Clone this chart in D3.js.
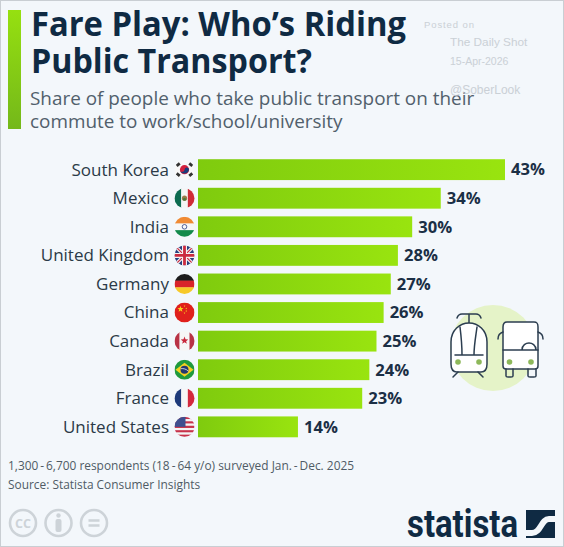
<!DOCTYPE html>
<html><head><meta charset="utf-8">
<script src="https://cdn.jsdelivr.net/npm/d3@7/dist/d3.min.js"></script>
<style>html,body{margin:0;padding:0;background:#f3f7fb}svg{display:block}text{font-family:"Open Sans",sans-serif}</style>
</head><body><svg id="c" width="564" height="547"></svg>
<script>
const categories=["South Korea","Mexico","India","United Kingdom","Germany","China","Canada","Brazil","France","United States"];
const flags=["kr","mx","in","gb","de","cn","ca","br","fr","us"];
const values=[43,34,30,28,27,26,25,24,23,14];
const titleLines=["Fare Play: Who’s Riding","Public Transport?"];
const titleWidths=[375,281];
const subtitleLines=["Share of people who take public transport on their","commute to work/school/university"];
const footerLines=["1,300\u2009-\u20096,700 respondents (18\u2009-\u200964 y/o) surveyed Jan.\u2009-\u2009Dec. 2025","Source: Statista Consumer Insights"];
const watermark=[["Posted on",424,28,9.5,0.9],["The Daily Shot",450,46,11.8,0],["15-Apr-2026",450,65,10.5,0],["@SoberLook",450,94,12,0]];

const svg=d3.select("#c");
const defs=svg.append("defs");
const g1=defs.append("linearGradient").attr("id","bar").attr("x1",0).attr("x2",1).attr("y1",0).attr("y2",0);
g1.append("stop").attr("offset",0).attr("stop-color","#7fcb0e");
g1.append("stop").attr("offset",1).attr("stop-color","#99e40f");
const g2=defs.append("linearGradient").attr("id","side").attr("x1",0).attr("x2",0).attr("y1",0).attr("y2",1);
g2.append("stop").attr("offset",0).attr("stop-color","#96e010");
g2.append("stop").attr("offset",1).attr("stop-color","#74b81a");

svg.append("rect").attr("x",0.5).attr("y",0.5).attr("width",563).attr("height",546).attr("fill","#f3f7fb").attr("stroke","#c9ced3");
svg.append("rect").attr("x",8).attr("y",10).attr("width",13).attr("height",119).attr("fill","url(#side)");

svg.selectAll("text.title").data(titleLines).join("text").attr("class","title")
  .attr("x",31).attr("y",(d,i)=>36+i*36.5).attr("font-size",33.5).attr("font-weight",700).attr("fill","#0f2a43")
  .attr("textLength",(d,i)=>titleWidths[i]).attr("lengthAdjust","spacingAndGlyphs").text(d=>d);
svg.selectAll("text.sub").data(subtitleLines).join("text").attr("class","sub")
  .attr("x",30).attr("y",(d,i)=>105+i*23).attr("font-size",18.9).attr("fill","#51606c").text(d=>d);

const x=d3.scaleLinear().domain([0,43]).range([198,505]);
const y=d3.scaleBand().domain(categories).range([155.5,441]).paddingInner(0.27).paddingOuter(0.13);

svg.selectAll("rect.bar").data(values).join("rect").attr("class","bar")
  .attr("x",x(0)).attr("y",(d,i)=>y(categories[i])).attr("width",d=>x(d)-x(0)).attr("height",y.bandwidth()).attr("fill","url(#bar)");
svg.selectAll("text.cat").data(categories).join("text").attr("class","cat")
  .attr("x",169).attr("y",d=>y(d)+y.bandwidth()/2).attr("dy","0.35em").attr("text-anchor","end")
  .attr("font-size",17).attr("fill","#2b3a47").text(d=>d);
svg.selectAll("text.val").data(values).join("text").attr("class","val")
  .attr("x",d=>x(d)+6).attr("y",(d,i)=>y(categories[i])+y.bandwidth()/2).attr("dy","0.35em")
  .attr("font-size",16.6).attr("font-weight",700).attr("fill","#1b2f45").text(d=>d+"%");

/* flags */
const R=10;
defs.append("clipPath").attr("id","fc").append("circle").attr("r",R);
const bandsV=(g,c)=>c.forEach((k,i)=>g.append("rect").attr("x",-R+i*2*R/c.length).attr("y",-R).attr("width",2*R/c.length+.3).attr("height",2*R).attr("fill",k));
const bandsH=(g,c)=>c.forEach((k,i)=>g.append("rect").attr("x",-R).attr("y",-R+i*2*R/c.length).attr("width",2*R).attr("height",2*R/c.length+.3).attr("fill",k));
const star=(g,cx,cy,r,fill)=>{const p=d3.range(10).map(i=>{const a=-Math.PI/2+i*Math.PI/5,q=i%2?r*.42:r;return [cx+q*Math.cos(a),cy+q*Math.sin(a)]});g.append("polygon").attr("points",p.join(" ")).attr("fill",fill)};
const draw={
 kr(g){g.append("rect").attr("x",-R).attr("y",-R).attr("width",2*R).attr("height",2*R).attr("fill","#f8f8f8");
  g.append("circle").attr("r",4.6).attr("fill","#d4213d");
  g.append("path").attr("d","M-4.5,0.6A4.6,4.6 0 0 0 4.5,-0.6A2.3,2.3 0 0 0 0,0A2.3,2.3 0 0 1 -4.5,0.6Z").attr("fill","#1a3d7c");
  [[-6.3,-5,-40],[6.3,-5,40],[-6.3,5,40],[6.3,5,-40]].forEach(t=>g.append("rect").attr("x",-2).attr("y",-1.4).attr("width",4).attr("height",2.8).attr("fill","#333").attr("transform",`translate(${t[0]},${t[1]}) rotate(${t[2]})`));},
 mx(g){bandsV(g,["#0c6b50","#f5f5f5","#cf2b37"]);g.append("circle").attr("r",2.6).attr("fill","#9a7a4a");g.append("circle").attr("cy",1).attr("r",1.5).attr("fill","#4d7a3a");},
 in(g){bandsH(g,["#f08a33","#f7f7f7","#138a4b"]);g.append("circle").attr("r",2.3).attr("fill","none").attr("stroke","#2a3c80").attr("stroke-width",.8);},
 gb(g){g.append("rect").attr("x",-R).attr("y",-R).attr("width",2*R).attr("height",2*R).attr("fill","#2a3f7e");
  g.append("path").attr("d","M-10,-10L10,10M10,-10L-10,10").attr("stroke","#f4f4f4").attr("stroke-width",3.4);
  g.append("path").attr("d","M-10,-10L10,10M10,-10L-10,10").attr("stroke","#cc2b40").attr("stroke-width",1.2);
  g.append("path").attr("d","M0,-10V10M-10,0H10").attr("stroke","#f4f4f4").attr("stroke-width",5);
  g.append("path").attr("d","M0,-10V10M-10,0H10").attr("stroke","#cc2b40").attr("stroke-width",2.8);},
 de(g){bandsH(g,["#1c1c1c","#d8232a","#f7c928"]);},
 cn(g){g.append("rect").attr("x",-R).attr("y",-R).attr("width",2*R).attr("height",2*R).attr("fill","#e0201c");star(g,-4,-3.5,3.2,"#f7d21e");[[0,-6.5],[1.8,-4],[1.8,-1.5],[0,0.5]].forEach(p=>star(g,p[0],p[1],1,"#f7d21e"));},
 ca(g){bandsV(g,["#b83245","#f6f6f6","#f6f6f6","#b83245"]);star(g,0,-.5,4,"#c8283c");},
 br(g){g.append("rect").attr("x",-R).attr("y",-R).attr("width",2*R).attr("height",2*R).attr("fill","#1f9a3d");
  g.append("polygon").attr("points","-9,0 0,-7 9,0 0,7").attr("fill","#f5d020");g.append("circle").attr("r",4).attr("fill","#24386f");
  g.append("path").attr("d","M-3.8,-1C-1,-1.5 2,-.5 3.8,1.4").attr("stroke","#eee").attr("stroke-width",.8).attr("fill","none");},
 fr(g){bandsV(g,["#1d3a7a","#f6f6f6","#d3293d"]);},
 us(g){bandsH(g,["#c8324a","#f4f4f4","#c8324a","#f4f4f4","#c8324a","#f4f4f4","#c8324a","#f4f4f4","#c8324a"]);g.append("rect").attr("x",-R).attr("y",-R).attr("width",R+1).attr("height",R).attr("fill","#3f4f8f");}
};
flags.forEach((f,i)=>{const g=svg.append("g").attr("transform",`translate(184.5,${y(categories[i])+y.bandwidth()/2})`);
  const inner=g.append("g").attr("clip-path","url(#fc)");draw[f](inner);});

/* transport icon */
const ic=svg.append("g").attr("fill","none").attr("stroke","#2c3e50").attr("stroke-width",1.5).attr("stroke-linejoin","round").attr("stroke-linecap","round");
ic.append("circle").attr("cx",493).attr("cy",348).attr("r",43).attr("fill","#e5f3c8").attr("stroke","none");
ic.append("path").attr("d","M457,318C458,315 460,314 462,314H476C478,314 480,315 481,318M469,314V323");
ic.append("path").attr("d","M451,342C451,330 460,323 469,323C478,323 487,330 487,342V364C487,370 484,372 481,372H457C454,372 451,370 451,364Z").attr("fill","#fff");
ic.append("path").attr("d","M460,327C461,335 462,345 462,355M477,327C476,335 474,345 474,355M455,355H483");
ic.append("path").attr("d","M458,372L453,377M478,372L483,377");
ic.append("path").attr("d","M503,327C503,323 505,322 507,322H534C537,322 538,323 538,327V366C538,368 537,369 535,369H506C504,369 503,368 503,366Z").attr("fill","#fff");
ic.append("path").attr("d","M503,350H538M522,350C522,345 526,343 529,343C532,343 536,345 536,350M498,339C498,336 500,333 503,332M543,339C543,336 541,333 538,332");
ic.append("path").attr("d","M506,369V376C506,377 507,377 508,377H511C512,377 513,377 513,376V369M528,369V376C528,377 529,377 530,377H534C535,377 536,377 536,376V369");
[[458,362],[479,362],[509.500,362],[531,362]].forEach(p=>ic.append("circle").attr("cx",p[0]).attr("cy",p[1]).attr("r",2.8).attr("fill","#8db85a").attr("stroke","none"));

/* footer */
svg.selectAll("text.foot").data(footerLines).join("text").attr("class","foot")
  .attr("x",8).attr("y",(d,i)=>470+i*18.5).attr("font-size",11.9).attr("fill","#4f5b65").text(d=>d);
const lic=svg.append("g").attr("fill","none").attr("stroke","#cdd3d8").attr("stroke-width",2.6);
[[23],[58.500],[94]].forEach(p=>lic.append("circle").attr("cx",p[0]).attr("cy",523).attr("r",13));
lic.append("text").attr("x",23).attr("y",527.500).attr("text-anchor","middle").attr("font-size",12.5).attr("font-weight",700).attr("fill","#cdd3d8").attr("stroke","none").text("CC");
lic.append("circle").attr("cx",58.500).attr("cy",515.500).attr("r",2.2).attr("fill","#cdd3d8").attr("stroke","none");
lic.append("rect").attr("x",55.500).attr("y",519).attr("width",6).attr("height",13).attr("rx",2).attr("fill","#cdd3d8").attr("stroke","none");
lic.append("path").attr("d","M88.500,520.500H99.500M88.500,525.500H99.500").attr("stroke-width",2.4);

/* logo */
svg.append("text").attr("x",407).attr("y",537).style("font-family","Roboto,sans-serif").attr("font-size",38).attr("font-weight",700)
  .attr("textLength",111).attr("lengthAdjust","spacingAndGlyphs").attr("fill","#0f2a43").text("statista");
const lg=svg.append("g");
lg.append("rect").attr("x",526).attr("y",510).attr("width",29).attr("height",28).attr("fill","#0f2a43");
lg.append("path").attr("d","M526,533H532C541,533 541,519 549,519H555").attr("fill","none").attr("stroke","#f3f7fb").attr("stroke-width",6);

/* watermark */
svg.selectAll("text.wm").data(watermark).join("text").attr("class","wm")
  .attr("x",d=>d[1]).attr("y",d=>d[2]).attr("font-size",d=>d[3]).attr("letter-spacing",d=>d[4]).style("font-family","'Liberation Sans',sans-serif").attr("fill","#c4cad0").attr("opacity",.85).text(d=>d[0]);
</script></body></html>
